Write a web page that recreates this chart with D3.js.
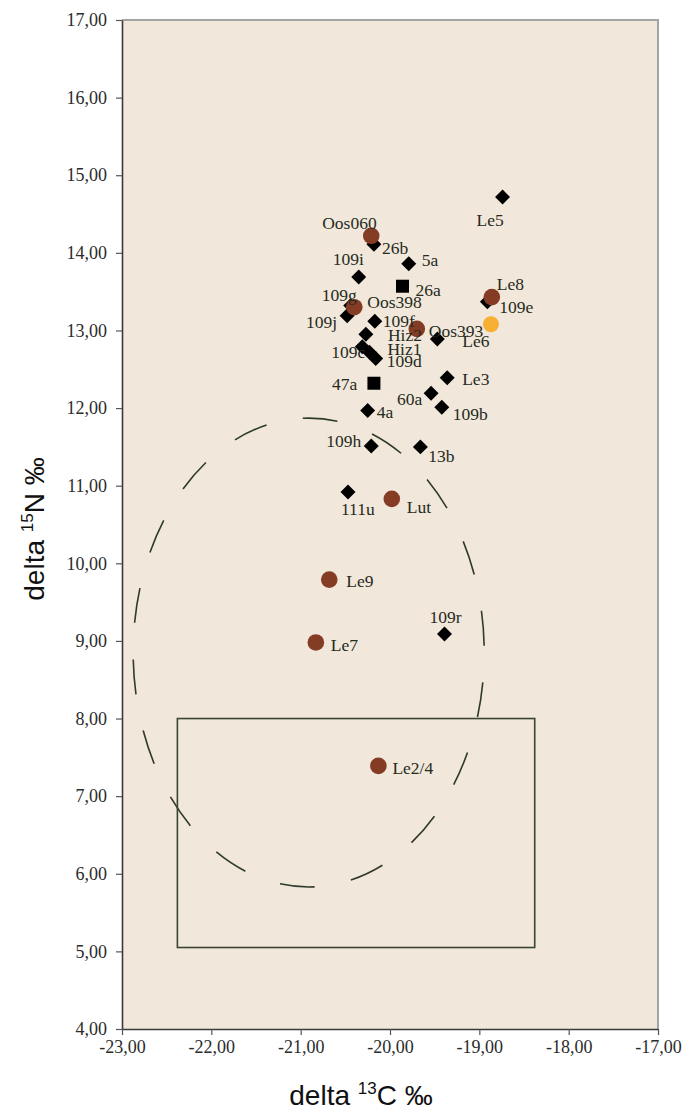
<!DOCTYPE html>
<html>
<head>
<meta charset="utf-8">
<script src="https://cdn.jsdelivr.net/npm/d3@7"></script>
<style>
  body { margin: 0; background: #ffffff; }
  svg { display: block; }
</style>
</head>
<body>
<svg id="chart" width="686" height="1114"></svg>
<script>
// Axis ticks
const xTicks = [-23, -22, -21, -20, -19, -18, -17];
const yTicks = [4, 5, 6, 7, 8, 9, 10, 11, 12, 13, 14, 15, 16, 17];

// Samples plotted as black diamonds (d13C, d15N)
const diamonds = [
  { id: "Le5",  c: -18.74, n: 14.72 },
  { id: "26b",  c: -20.18, n: 14.11 },
  { id: "5a",   c: -19.79, n: 13.86 },
  { id: "109i", c: -20.35, n: 13.69 },
  { id: "109e", c: -18.91, n: 13.37 },
  { id: "109g", c: -20.44, n: 13.32 },
  { id: "109j", c: -20.48, n: 13.19 },
  { id: "109f", c: -20.17, n: 13.12 },
  { id: "Hiz2", c: -20.27, n: 12.95 },
  { id: "Le6",  c: -19.47, n: 12.89 },
  { id: "109c", c: -20.31, n: 12.79 },
  { id: "Hiz1", c: -20.23, n: 12.72 },
  { id: "109d", c: -20.16, n: 12.64 },
  { id: "Le3",  c: -19.36, n: 12.39 },
  { id: "60a",  c: -19.54, n: 12.19 },
  { id: "109b", c: -19.42, n: 12.01 },
  { id: "4a",   c: -20.25, n: 11.97 },
  { id: "109h", c: -20.21, n: 11.51 },
  { id: "13b",  c: -19.66, n: 11.50 },
  { id: "111u", c: -20.47, n: 10.92 },
  { id: "109r", c: -19.39, n: 9.09 }
];

// Samples plotted as black squares
const squares = [
  { id: "26a", c: -19.86, n: 13.57 },
  { id: "47a", c: -20.18, n: 12.32 }
];

// Samples plotted as brown circles
const brownCircles = [
  { id: "Oos060", c: -20.21, n: 14.22 },
  { id: "Oos398", c: -20.40, n: 13.30 },
  { id: "Le8",    c: -18.86, n: 13.43 },
  { id: "Oos393", c: -19.70, n: 13.02 },
  { id: "Lut",    c: -19.98, n: 10.83 },
  { id: "Le9",    c: -20.68, n: 9.79 },
  { id: "Le7",    c: -20.83, n: 8.98 },
  { id: "Le2/4",  c: -20.13, n: 7.39 }
];

// Single orange circle (unlabelled)
const orangeCircles = [
  { id: "", c: -18.87, n: 13.08 }
];

// Reference ranges: dashed ellipse and solid box (data units)
const ellipseRange = { c: -20.91, n: 8.85, rc: 1.965, rn: 3.02 };
const boxRange = { c0: -22.38, c1: -18.38, n0: 5.05, n1: 8.00 };

// Label placement relative to each marker (pixels: dx, baseline dy)
const labelOffsets = {
  "Le5": [-26, 29], "26b": [8, 10], "5a": [13, 2], "109i": [-26, -12],
  "109e": [12, 11], "109g": [-29, -5], "109j": [-41, 12], "109f": [8, 6],
  "Hiz2": [22, 7], "Le6": [25, 8], "109c": [-31, 11], "Hiz1": [18, 3],
  "109d": [11, 9], "Le3": [15, 7], "60a": [-34, 12], "109b": [11, 13],
  "4a": [9, 8], "109h": [-45, 1], "13b": [8, 15], "111u": [-7, 23],
  "109r": [-15, -11], "26a": [13, 10], "47a": [-42, 7],
  "Oos060": [-49, -7], "Oos398": [13, 1], "Le8": [5, -7], "Oos393": [12, 8],
  "Lut": [15, 14], "Le9": [17, 7], "Le7": [15, 9], "Le2/4": [14, 8]
};

const plot = { left: 122, right: 658, top: 20, bottom: 1029 };

const svg = d3.select("#chart");
const x = d3.scaleLinear().domain([xTicks[0], xTicks[xTicks.length - 1]]).range([plot.left, plot.right]);
const y = d3.scaleLinear().domain([yTicks[0], yTicks[yTicks.length - 1]]).range([plot.bottom, plot.top]);
const fmt = v => d3.format(".2f")(v).replace(".", ",").replace("−", "-");

const serif = "'Liberation Serif', 'Times New Roman', serif";
const sans = "'Liberation Sans', Arial, sans-serif";

// Plot area background
svg.append("rect")
  .attr("x", plot.left).attr("y", plot.top)
  .attr("width", plot.right - plot.left).attr("height", plot.bottom - plot.top)
  .attr("fill", "#f1e7db");

// Top and right frame
svg.append("path")
  .attr("d", `M${plot.left},${plot.top}H${plot.right}V${plot.bottom}`)
  .attr("fill", "none").attr("stroke", "#a3a3a3").attr("stroke-width", 2);

// Axes
const yAxis = d3.axisLeft(y).tickValues(yTicks).tickFormat(fmt).tickSize(6).tickSizeOuter(0).tickPadding(9);
const xAxis = d3.axisBottom(x).tickValues(xTicks).tickFormat(fmt).tickSize(6).tickSizeOuter(0).tickPadding(5);

const gy = svg.append("g").attr("transform", `translate(${plot.left},0)`).call(yAxis);
const gx = svg.append("g").attr("transform", `translate(0,${plot.bottom})`).call(xAxis);
[gx, gy].forEach(g => {
  g.select(".domain").attr("stroke", "#3a3a3a").attr("stroke-width", 1.6);
  g.selectAll(".tick line").attr("stroke", "#555").attr("stroke-width", 1.2);
  g.selectAll(".tick text").attr("fill", "#2b2b2b")
    .style("font-family", serif).style("font-size", "18px");
});

// Dashed ellipse
const ecx = x(ellipseRange.c), ecy = y(ellipseRange.n);
const erx = x(ellipseRange.c + ellipseRange.rc) - ecx;
const ery = ecy - y(ellipseRange.n + ellipseRange.rn);
svg.append("ellipse")
  .attr("cx", ecx).attr("cy", ecy).attr("rx", erx).attr("ry", ery)
  .attr("fill", "none").attr("stroke", "#2e3a2c").attr("stroke-width", 1.6)
  .attr("pathLength", 1296)
  .attr("stroke-dasharray", "35 37")
  .attr("stroke-dashoffset", 42);

// Solid box
svg.append("rect")
  .attr("x", x(boxRange.c0)).attr("y", y(boxRange.n1))
  .attr("width", x(boxRange.c1) - x(boxRange.c0))
  .attr("height", y(boxRange.n0) - y(boxRange.n1))
  .attr("fill", "none").attr("stroke", "#3a4433").attr("stroke-width", 1.6);

// Markers
const marks = svg.append("g");
marks.selectAll("path.diamond").data(diamonds).join("path")
  .attr("class", "diamond")
  .attr("d", d3.symbol().type(d3.symbolSquare).size(112))
  .attr("transform", d => `translate(${x(d.c)},${y(d.n)}) rotate(45)`)
  .attr("fill", "#000");

marks.selectAll("path.square").data(squares).join("path")
  .attr("class", "square")
  .attr("d", d3.symbol().type(d3.symbolSquare).size(169))
  .attr("transform", d => `translate(${x(d.c)},${y(d.n)})`)
  .attr("fill", "#000");

marks.selectAll("circle.brown").data(brownCircles).join("circle")
  .attr("class", "brown")
  .attr("cx", d => x(d.c)).attr("cy", d => y(d.n)).attr("r", 8.3)
  .attr("fill", "#853c25");

marks.selectAll("circle.orange").data(orangeCircles).join("circle")
  .attr("class", "orange")
  .attr("cx", d => x(d.c)).attr("cy", d => y(d.n)).attr("r", 8)
  .attr("fill", "#f7b034");

// Point labels
const labelled = diamonds.concat(squares, brownCircles).filter(d => d.id);
svg.append("g").selectAll("text").data(labelled).join("text")
  .attr("x", d => x(d.c) + (labelOffsets[d.id] || [10, 5])[0])
  .attr("y", d => y(d.n) + (labelOffsets[d.id] || [10, 5])[1])
  .attr("fill", "#262b22")
  .style("font-family", serif).style("font-size", "17.5px")
  .text(d => d.id);

// Axis titles
const xt = svg.append("text")
  .attr("x", 361).attr("y", 1105)
  .attr("text-anchor", "middle")
  .attr("fill", "#111")
  .style("font-family", sans).style("font-size", "28px");
xt.append("tspan").text("delta ");
xt.append("tspan").attr("dy", -11).style("font-size", "17px").text("13");
xt.append("tspan").attr("dy", 11).text("C ‰");

const yt = svg.append("text")
  .attr("transform", "translate(44,529) rotate(-90)")
  .attr("text-anchor", "middle")
  .attr("fill", "#111")
  .style("font-family", sans).style("font-size", "28px");
yt.append("tspan").text("delta ");
yt.append("tspan").attr("dy", -11).style("font-size", "17px").text("15");
yt.append("tspan").attr("dy", 11).text("N ‰");
</script>
</body>
</html>
